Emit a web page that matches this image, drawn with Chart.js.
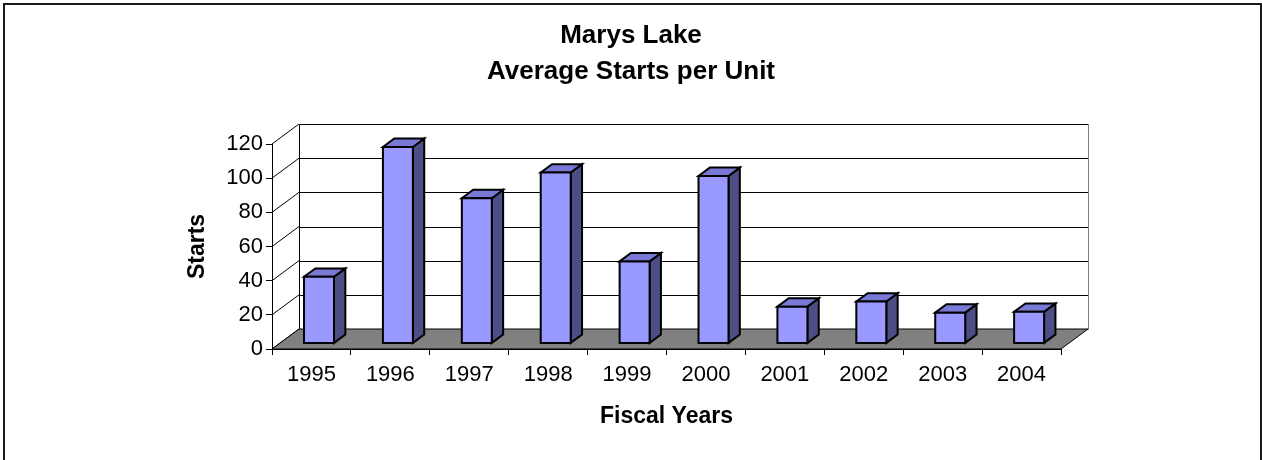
<!DOCTYPE html>
<html>
<head>
<meta charset="utf-8">
<script src="https://cdn.jsdelivr.net/npm/chart.js@4.4.0/dist/chart.umd.min.js"></script>
<style>
html,body{margin:0;padding:0;background:#ffffff;}
canvas{display:block;}
</style>
</head>
<body>
<canvas id="c" width="1262" height="460"></canvas>
<script>
// ---- data ----
const categories = ['1995','1996','1997','1998','1999','2000','2001','2002','2003','2004'];
const startsPerUnit = [39, 115, 85, 100, 48, 98, 21.5, 24.5, 18, 18.5];
const yMin = 0, yMax = 120, yStep = 20;
const titleLines = ['Marys Lake', 'Average Starts per Unit'];
const xTitleText = 'Fiscal Years';
const yTitleText = 'Starts';

// ---- style ----
const FONT = "'Liberation Sans', Arial, Helvetica, sans-serif";
const DEPTH = {x: 27, y: -20};
const BAR_FRONT = 0.28, BAR_BACK = 0.70;
const COL_FRONT = '#9999FF', COL_TOP = '#7979D6', COL_SIDE = '#4E4E86';
const COL_FLOOR = '#808080';

function px(v){ return Math.round(v) + 0.5; }

const excel3d = {
  id: 'excel3d',
  beforeDatasetsDraw(chart) {
    const {ctx, chartArea: a, scales} = chart;
    const ys = scales.y;
    const dx = DEPTH.x, dy = DEPTH.y;
    ctx.save();
    ctx.lineWidth = 1;
    const ticks = ys.ticks.map(t => t.value);
    // back wall gridlines (including top edge)
    ticks.forEach(v => {
      const yy = px(ys.getPixelForValue(v) + dy);
      ctx.strokeStyle = '#000000';
      ctx.beginPath();
      ctx.moveTo(px(a.left + dx), yy);
      ctx.lineTo(px(a.right + dx), yy);
      ctx.stroke();
    });
    // back wall left edge
    ctx.strokeStyle = '#000000';
    ctx.beginPath();
    ctx.moveTo(px(a.left + dx), px(a.top + dy));
    ctx.lineTo(px(a.left + dx), px(a.bottom + dy));
    ctx.stroke();
    // back wall right edge
    ctx.strokeStyle = '#808080';
    ctx.beginPath();
    ctx.moveTo(px(a.right + dx), px(a.top + dy));
    ctx.lineTo(px(a.right + dx), px(a.bottom + dy));
    ctx.stroke();
    // side wall diagonals
    ctx.strokeStyle = '#000000';
    ticks.forEach(v => {
      const yy = ys.getPixelForValue(v);
      ctx.beginPath();
      ctx.moveTo(a.left, yy);
      ctx.lineTo(a.left + dx, yy + dy);
      ctx.stroke();
    });
    // floor
    const fy = ys.getPixelForValue(0);
    ctx.fillStyle = COL_FLOOR;
    ctx.beginPath();
    ctx.moveTo(a.left, fy);
    ctx.lineTo(a.right, fy);
    ctx.lineTo(a.right + dx, fy + dy);
    ctx.lineTo(a.left + dx, fy + dy);
    ctx.closePath();
    ctx.fill();
    ctx.strokeStyle = '#000000';
    ctx.stroke();
    ctx.restore();
  },
  afterDatasetsDraw(chart) {
    const {ctx} = chart;
    const meta = chart.getDatasetMeta(0);
    const fx = DEPTH.x * BAR_FRONT, fyo = DEPTH.y * BAR_FRONT;
    const ddx = DEPTH.x * (BAR_BACK - BAR_FRONT), ddy = DEPTH.y * (BAR_BACK - BAR_FRONT);
    ctx.save();
    ctx.lineWidth = 2;
    ctx.lineJoin = 'miter';
    ctx.strokeStyle = '#000000';
    meta.data.forEach(el => {
      const p = el.getProps(['x','y','base','width'], true);
      const l = p.x - p.width / 2 + fx, r = p.x + p.width / 2 + fx;
      const t = p.y + fyo, b = p.base + fyo;
      // side
      ctx.fillStyle = COL_SIDE;
      ctx.beginPath();
      ctx.moveTo(r, t); ctx.lineTo(r + ddx, t + ddy); ctx.lineTo(r + ddx, b + ddy); ctx.lineTo(r, b);
      ctx.closePath(); ctx.fill(); ctx.stroke();
      // top
      ctx.fillStyle = COL_TOP;
      ctx.beginPath();
      ctx.moveTo(l, t); ctx.lineTo(l + ddx, t + ddy); ctx.lineTo(r + ddx, t + ddy); ctx.lineTo(r, t);
      ctx.closePath(); ctx.fill(); ctx.stroke();
      // front
      ctx.fillStyle = COL_FRONT;
      ctx.beginPath();
      ctx.rect(l, t, r - l, b - t);
      ctx.fill(); ctx.stroke();
    });
    ctx.restore();
  },
  afterDraw(chart) {
    const {ctx} = chart;
    ctx.save();
    ctx.strokeStyle = '#1a1a1a';
    ctx.lineWidth = 2;
    ctx.strokeRect(4, 4, 1257, 520);
    ctx.restore();
  }
};

new Chart(document.getElementById('c'), {
  type: 'bar',
  data: {
    labels: categories,
    datasets: [{
      label: 'Starts',
      data: startsPerUnit,
      backgroundColor: 'rgba(0,0,0,0)',
      borderWidth: 0,
      categoryPercentage: 1,
      barPercentage: 0.38
    }]
  },
  options: {
    responsive: false,
    animation: false,
    events: [],
    layout: {padding: 0},
    plugins: {
      legend: {display: false},
      tooltip: {enabled: false},
      title: {
        display: true,
        text: titleLines,
        color: '#000000',
        font: {family: FONT, size: 26, weight: 'bold', lineHeight: 36/26},
        padding: {top: 18, bottom: 54}
      }
    },
    scales: {
      x: {
        grid: {display: true, drawOnChartArea: false, tickLength: 6, color: '#000000', offset: true},
        border: {display: true, color: '#000000', width: 1},
        ticks: {color: '#000000', padding: 7, font: {family: FONT, size: 22}, maxRotation: 0, autoSkip: false},
        title: {display: true, text: xTitleText, color: '#000000', font: {family: FONT, size: 23, weight: 'bold'}, padding: {top: 0, bottom: 30}},
        afterFit(s) { s.height = 111; }
      },
      y: {
        min: yMin, max: yMax,
        grid: {display: true, drawOnChartArea: false, tickLength: 6, color: '#000000'},
        border: {display: true, color: '#000000', width: 1},
        ticks: {stepSize: yStep, color: '#000000', padding: 3, font: {family: FONT, size: 22}},
        title: {display: true, text: yTitleText, color: '#000000', font: {family: FONT, size: 23, weight: 'bold'}, padding: {top: 184, bottom: 0}},
        afterFit(s) { s.width = 272; }
      },
      spacer: {
        type: 'linear', position: 'right', display: true,
        grid: {display: false}, border: {display: false}, ticks: {display: false},
        afterFit(s) { s.width = 201; }
      }
    }
  },
  plugins: [excel3d]
});
</script>
</body>
</html>
